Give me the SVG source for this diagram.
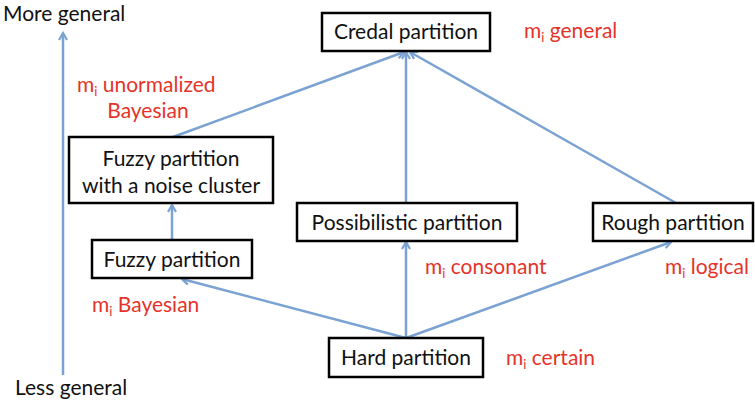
<svg xmlns="http://www.w3.org/2000/svg" width="755" height="404" viewBox="0 0 755 404">
<style>
.box{fill:#fff;stroke:#000;stroke-width:2.5}
.t{font-family:Lato,"Liberation Sans",sans-serif;font-size:21px;fill:#111}
.r{font-family:Lato,"Liberation Sans",sans-serif;font-size:21px;fill:#e5332a}
.s{font-size:13px}
.c{stroke:#7aa2d2;stroke-width:2.5;fill:none}
</style>
<defs>
<marker id="ah" markerWidth="10" markerHeight="10" refX="8" refY="5" orient="auto" markerUnits="userSpaceOnUse">
<path d="M1,1 L8,5 L1,9" fill="none" stroke="#7aa2d2" stroke-width="2.2"/>
</marker>
</defs>
<g id="connectors">
<line class="c" x1="63" y1="375" x2="63" y2="33" marker-end="url(#ah)"/>
<line class="c" x1="406" y1="338" x2="182" y2="279" marker-end="url(#ah)"/>
<line class="c" x1="406" y1="338" x2="406" y2="242" marker-end="url(#ah)"/>
<line class="c" x1="406" y1="338" x2="671" y2="242" marker-end="url(#ah)"/>
<line class="c" x1="172" y1="239" x2="172" y2="205" marker-end="url(#ah)"/>
<line class="c" x1="173" y1="137" x2="404" y2="52" marker-end="url(#ah)"/>
<line class="c" x1="406" y1="203" x2="406" y2="52" marker-end="url(#ah)"/>
<line class="c" x1="676" y1="203" x2="410" y2="52" marker-end="url(#ah)"/>
</g>
<g id="credal">
<rect class="box" x="322" y="13" width="168" height="38"/>
<text class="t" x="406" y="39" text-anchor="middle">Credal partition</text>
</g>
<g id="fuzzy-noise">
<rect class="box" x="69" y="137" width="204" height="66"/>
<text class="t" x="171" y="166" text-anchor="middle">Fuzzy partition</text>
<text class="t" x="171" y="193" text-anchor="middle">with a noise cluster</text>
</g>
<g id="fuzzy">
<rect class="box" x="92" y="240" width="160" height="38"/>
<text class="t" x="172" y="267" text-anchor="middle">Fuzzy partition</text>
</g>
<g id="possibilistic">
<rect class="box" x="297" y="203" width="220" height="38"/>
<text class="t" x="407" y="230" text-anchor="middle">Possibilistic partition</text>
</g>
<g id="rough">
<rect class="box" x="593" y="203" width="160" height="38"/>
<text class="t" x="673" y="230" text-anchor="middle">Rough partition</text>
</g>
<g id="hard">
<rect class="box" x="329" y="338" width="154" height="39"/>
<text class="t" x="406" y="365" text-anchor="middle">Hard partition</text>
</g>
<g id="labels">
<text class="t" x="3" y="21">More general</text>
<text class="t" x="15" y="395">Less general</text>
<text class="r" x="77" y="92">m<tspan class="s" dy="4">i</tspan><tspan dy="-4"> unormalized</tspan></text>
<text class="r" x="148" y="118" text-anchor="middle">Bayesian</text>
<text class="r" x="524" y="38">m<tspan class="s" dy="4">i</tspan><tspan dy="-4"> general</tspan></text>
<text class="r" x="425" y="274">m<tspan class="s" dy="4">i</tspan><tspan dy="-4"> consonant</tspan></text>
<text class="r" x="665" y="274">m<tspan class="s" dy="4">i</tspan><tspan dy="-4"> logical</tspan></text>
<text class="r" x="92" y="312">m<tspan class="s" dy="4">i</tspan><tspan dy="-4"> Bayesian</tspan></text>
<text class="r" x="506" y="365">m<tspan class="s" dy="4">i</tspan><tspan dy="-4"> certain</tspan></text>
</g>
</svg>
